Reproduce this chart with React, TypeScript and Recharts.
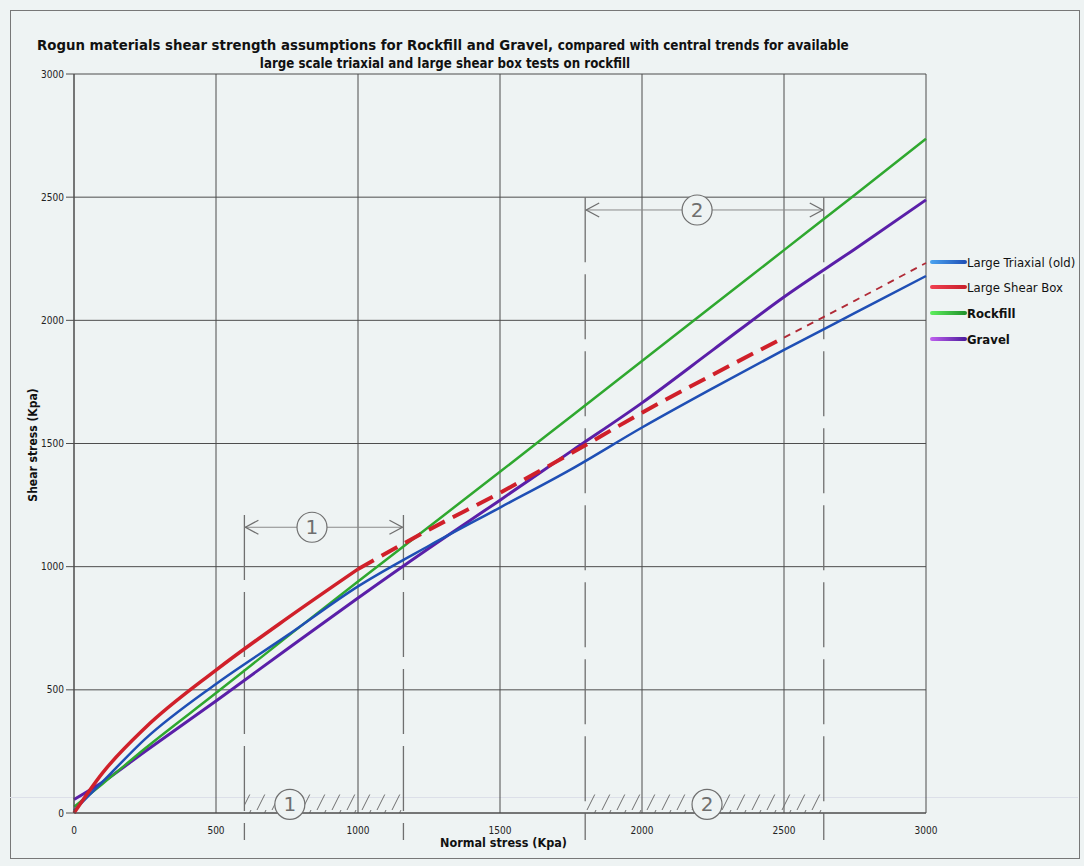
import React from "react";
import { CartesianGrid, Line, LineChart, ReferenceArea, ReferenceDot, ReferenceLine, XAxis, YAxis } from "recharts";

// normal stress (kPa) sample points
const sigma = [0, 100, 250, 500, 750, 1000, 1250, 1500, 1750, 2000, 2250, 2500, 2750, 3000];
// shear stress (kPa)
const triaxial = [10, 126, 300, 524, 720, 920, 1085, 1240, 1395, 1565, 1725, 1880, 2030, 2180];
const shearBoxSolid = [0, 162, 345, 580, 790, 990, null, null, null, null, null, null, null, null];
const shearBoxDash = [null, null, null, null, null, 990, 1150, 1300, 1460, 1625, 1780, 1930, null, null];
const shearBoxExtra = [null, null, null, null, null, null, null, null, null, null, null, 1930, 2080, 2233];
const rockfill = [25, 118, 262, 487, 715, 940, 1162, 1385, 1610, 1835, 2060, 2285, 2510, 2737];
const gravel = [55, 125, 250, 455, 665, 873, 1075, 1270, 1468, 1665, 1880, 2095, 2290, 2489];

const ticks = [0, 500, 1000, 1500, 2000, 2500, 3000];
const legendItems = [
  { name: "Large  Triaxial (old)", light: "#4aa3f0", dark: "#1f4fb5", bold: false },
  { name: "Large  Shear Box", light: "#f04050", dark: "#c81e2a", bold: false },
  { name: "Rockfill", light: "#5ef05e", dark: "#1f8f2a", bold: true },
  { name: "Gravel", light: "#c060f0", dark: "#4a1a9a", bold: true },
];
// zones (1) and (2): normal stress range, circle position, arrow level
const zones = [
  { label: "1", from: 600, to: 1160, arrowY: 1160, arrowMid: 838, hatchMid: 760, top: 1210 },
  { label: "2", from: 1800, to: 2640, arrowY: 2448, arrowMid: 2194, hatchMid: 2229, top: 2500 },
];

const data = sigma.map((s, i) => ({
  sigma: s,
  triaxial: triaxial[i],
  boxSolid: shearBoxSolid[i],
  boxDash: shearBoxDash[i],
  boxExtra: shearBoxExtra[i],
  rockfill: rockfill[i],
  gravel: gravel[i],
}));

const narrow = "'Liberation Sans Narrow', 'DejaVu Sans Condensed', Arial, sans-serif";
const bg = "#eef3f3";
const pencil = "#6f6f6f";

const circleShape = (label: string) => (p: any) => (
  <g>
    <circle cx={p.cx} cy={p.cy} r={15} fill={bg} stroke={pencil} strokeWidth={1.2} />
    <text x={p.cx} y={p.cy + 7} textAnchor="middle" fontSize={20} fill={pencil} fontFamily="'DejaVu Sans', sans-serif">{label}</text>
  </g>
);
const arrowLeft = (p: any) => <path d={`M${p.cx + 14} ${p.cy - 7} L${p.cx + 1} ${p.cy} L${p.cx + 14} ${p.cy + 7}`} fill="none" stroke={pencil} strokeWidth={1.3} />;
const arrowRight = (p: any) => <path d={`M${p.cx - 14} ${p.cy - 7} L${p.cx - 1} ${p.cy} L${p.cx - 14} ${p.cy + 7}`} fill="none" stroke={pencil} strokeWidth={1.3} />;

export default function App() {
  return (
    <div style={{ position: "absolute", left: 0, top: 0, width: 1084, height: 866, background: bg, overflow: "hidden" }}>
      <div style={{ position: "absolute", left: 10, top: 10, width: 1068, height: 847, border: "1.5px solid #777" }} />
      <div style={{ position: "absolute", left: 10, top: 797, width: 1068, height: 1, background: "#dcdfe8" }} />
      <div style={{ position: "absolute", left: 37, top: 35, fontFamily: narrow, fontWeight: 700, color: "#111", whiteSpace: "nowrap" }}>
        <span style={{ fontSize: 14.8 }}>Rogun materials shear strength assumptions for Rockfill and Gravel, </span>
        <span style={{ fontSize: 13.4 }}>compared with central trends for available</span>
      </div>
      <div style={{ position: "absolute", left: 0, width: 890, top: 56, textAlign: "center", fontFamily: narrow, fontWeight: 700, fontSize: 13.2, color: "#111", whiteSpace: "nowrap" }}>
        large scale triaxial and large shear box tests on rockfill
      </div>
      <div style={{ position: "absolute", left: 33, top: 445, transform: "translate(-50%, -50%) rotate(-90deg)", fontFamily: narrow, fontWeight: 700, fontSize: 12, color: "#111", whiteSpace: "nowrap" }}>
        Shear stress (Kpa)
      </div>
      <div style={{ position: "absolute", left: 440, top: 835, fontFamily: narrow, fontWeight: 700, fontSize: 12.5, color: "#111", whiteSpace: "nowrap" }}>
        Normal stress (Kpa)
      </div>
      <div style={{ position: "absolute", left: 930, top: 250 }}>
        {legendItems.map((it, i) => (
          <div key={it.name} style={{ display: "flex", alignItems: "center", height: i === 0 ? 24 : 26 }}>
            <div style={{ width: 37, height: 4, borderRadius: 2, background: `linear-gradient(90deg, ${it.light}, ${it.dark})` }} />
            <span style={{ fontFamily: narrow, fontSize: 13, fontWeight: it.bold ? 700 : 400, color: "#111", whiteSpace: "nowrap" }}>{it.name}</span>
          </div>
        ))}
      </div>
      <div style={{ position: "absolute", left: 0, top: 0 }}>
        <LineChart width={1084} height={866} data={data} margin={{ top: 74, right: 158, left: 44, bottom: 13 }}>
          <defs>
            <pattern id="hatch" width="15" height="18" patternUnits="userSpaceOnUse">
              <path d="M2 18 L11 0" stroke={pencil} strokeWidth={1} />
            </pattern>
          </defs>
          <CartesianGrid stroke="#4d4d4d" strokeWidth={1} />
          <XAxis type="number" dataKey="sigma" domain={[0, 3000]} ticks={ticks} height={40} tickLine={false} axisLine={{ stroke: "#4d4d4d" }} tick={{ fontSize: 10, fill: "#222", fontFamily: narrow }} tickMargin={8} />
          <YAxis type="number" domain={[0, 3000]} ticks={ticks} width={30} tickSize={8} tickLine={{ stroke: "#4d4d4d" }} axisLine={{ stroke: "#4d4d4d" }} tick={{ fontSize: 10, fill: "#222", fontFamily: narrow }} tickMargin={2} />
          {zones.map((z) => (
            <ReferenceArea key={"a" + z.label} x1={z.from} x2={z.to} y1={0} y2={75} fill="url(#hatch)" fillOpacity={1} stroke="none" ifOverflow="visible" />
          ))}
          {zones.flatMap((z) => [
            <ReferenceLine key={"l" + z.label} segment={[{ x: z.from, y: z.top }, { x: z.from, y: -110 }]} stroke={pencil} strokeWidth={1.3} strokeDasharray="65 12" ifOverflow="visible" />,
            <ReferenceLine key={"r" + z.label} segment={[{ x: z.to, y: z.top }, { x: z.to, y: -110 }]} stroke={pencil} strokeWidth={1.3} strokeDasharray="65 12" ifOverflow="visible" />,
            <ReferenceLine key={"h" + z.label} segment={[{ x: z.from, y: z.arrowY }, { x: z.to, y: z.arrowY }]} stroke="#8a8a8a" strokeWidth={1} ifOverflow="visible" />,
            <ReferenceDot key={"al" + z.label} x={z.from} y={z.arrowY} r={1} shape={arrowLeft} ifOverflow="visible" />,
            <ReferenceDot key={"ar" + z.label} x={z.to} y={z.arrowY} r={1} shape={arrowRight} ifOverflow="visible" />,
            <ReferenceDot key={"c" + z.label} x={z.arrowMid} y={z.arrowY} r={15} shape={circleShape(z.label)} ifOverflow="visible" />,
            <ReferenceDot key={"b" + z.label} x={z.hatchMid} y={35} r={15} shape={circleShape(z.label)} ifOverflow="visible" />,
          ])}
          <Line type="monotone" dataKey="gravel" stroke="#5a1fa8" strokeWidth={3} dot={false} isAnimationActive={false} />
          <Line type="monotone" dataKey="rockfill" stroke="#2fa82f" strokeWidth={2.5} dot={false} isAnimationActive={false} />
          <Line type="monotone" dataKey="triaxial" stroke="#1f4fb5" strokeWidth={2.5} dot={false} isAnimationActive={false} />
          <Line type="monotone" dataKey="boxSolid" stroke="#d0202a" strokeWidth={3.5} dot={false} isAnimationActive={false} />
          <Line type="monotone" dataKey="boxDash" stroke="#d0202a" strokeWidth={4} strokeDasharray="18 9" dot={false} isAnimationActive={false} />
          <Line type="monotone" dataKey="boxExtra" stroke="#b02a36" strokeWidth={1.8} strokeDasharray="7 6" dot={false} isAnimationActive={false} />
        </LineChart>
      </div>
    </div>
  );
}
